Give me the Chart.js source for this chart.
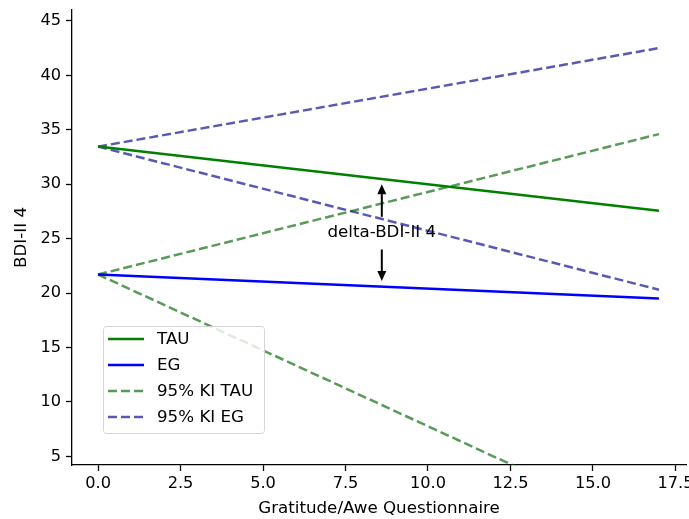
<!DOCTYPE html>
<html>
<head>
<meta charset="utf-8">
<script src="https://cdn.jsdelivr.net/npm/chart.js@4.4.1/dist/chart.umd.min.js"></script>
<style>
  html, body { margin: 0; padding: 0; background: #fff; }
  #wrap { width: 689px; height: 519px; }
</style>
</head>
<body>
<div id="wrap"><canvas id="bdiChart" width="689" height="519"></canvas></div>
<script>
// x positions of the regression line ends
var xEnds = [0, 17];

// series values (BDI-II 4) at xEnds
var tauLine = [33.45, 27.55];
var egLine = [21.7, 19.5];
var tauCiUpper = [21.7, 34.6];
var tauCiLower = [21.7, -2.0];
var egCiUpper = [33.45, 42.5];
var egCiLower = [33.45, 20.3];

// tick labels
var xTicks = [0, 2.5, 5, 7.5, 10, 12.5, 15, 17.5];
var yTicks = [5, 10, 15, 20, 25, 30, 35, 40, 45];

// annotation: x position, text y, arrow from/to values
var deltaX = 8.6;
var deltaTextY = 25.5;
var deltaUp = [27.0, 30.0];
var deltaDown = [24.0, 21.1];

var legendLabels = ['TAU', 'EG', '95% KI TAU', '95% KI EG'];

var FONT = "'DejaVu Sans', sans-serif";
var green = '#008000';
var blue = '#0000ff';
var greenCi = 'rgba(0, 100, 0, 0.65)';
var blueCi = 'rgba(0, 0, 139, 0.65)';

function toPoints(ys) {
    return xEnds.map(function(x, i) { return { x: x, y: ys[i] }; });
}

function lineSet(label, ys, color, dashed) {
    return {
        label: label,
        data: toPoints(ys),
        showLine: true,
        borderColor: color,
        backgroundColor: color,
        borderWidth: 2.5,
        borderDash: dashed ? [9, 4] : [],
        pointRadius: 0,
        pointHoverRadius: 0
    };
}

// legend drawn inside the plot, like the original
var legendPlugin = {
    id: 'innerLegend',
    afterDraw: function(chart) {
        var ctx = chart.ctx;
        var styles = [
            { color: green, dash: [] },
            { color: blue, dash: [] },
            { color: greenCi, dash: [9, 4] },
            { color: blueCi, dash: [9, 4] }
        ];
        var bx = 103, by = 326, bw = 161, bh = 107;
        ctx.save();
        ctx.beginPath();
        ctx.roundRect(bx + 0.5, by + 0.5, bw, bh, 3);
        ctx.fillStyle = 'rgba(255,255,255,0.8)';
        ctx.fill();
        ctx.strokeStyle = '#d6d6d6';
        ctx.lineWidth = 1;
        ctx.stroke();
        ctx.font = '16.7px ' + FONT;
        ctx.textBaseline = 'middle';
        legendLabels.forEach(function(label, i) {
            var y = by + 13 + i * 26;
            ctx.beginPath();
            ctx.setLineDash(styles[i].dash);
            ctx.strokeStyle = styles[i].color;
            ctx.lineWidth = 2.5;
            ctx.moveTo(108, y);
            ctx.lineTo(144, y);
            ctx.stroke();
            ctx.setLineDash([]);
            ctx.fillStyle = '#000';
            ctx.fillText(label, 157, y + 1);
        });
        ctx.restore();
    }
};

// delta arrows + text, placed through the chart scales
var deltaPlugin = {
    id: 'deltaNote',
    afterDatasetsDraw: function(chart) {
        var ctx = chart.ctx;
        var xs = chart.scales.x, ys = chart.scales.y;
        var px = xs.getPixelForValue(deltaX);

        function arrow(from, to) {
            var y0 = ys.getPixelForValue(from);
            var y1 = ys.getPixelForValue(to);
            var dir = y1 < y0 ? 1 : -1;
            var headLen = 10, headW = 4.5;
            ctx.beginPath();
            ctx.moveTo(px, y0);
            ctx.lineTo(px, y1 + dir * headLen);
            ctx.strokeStyle = '#000';
            ctx.lineWidth = 2;
            ctx.stroke();
            ctx.beginPath();
            ctx.moveTo(px, y1);
            ctx.lineTo(px - headW, y1 + dir * headLen);
            ctx.lineTo(px + headW, y1 + dir * headLen);
            ctx.closePath();
            ctx.fillStyle = '#000';
            ctx.fill();
        }

        ctx.save();
        arrow(deltaUp[0], deltaUp[1]);
        arrow(deltaDown[0], deltaDown[1]);
        ctx.font = '16.7px ' + FONT;
        ctx.textAlign = 'center';
        ctx.textBaseline = 'middle';
        ctx.fillStyle = '#000';
        ctx.fillText('delta-BDI-II 4', px, ys.getPixelForValue(deltaTextY));
        ctx.restore();
    }
};

document.addEventListener('DOMContentLoaded', function () {
    var ctx = document.getElementById('bdiChart').getContext('2d');
    new Chart(ctx, {
        type: 'scatter',
        data: {
            datasets: [
                lineSet('TAU', tauLine, green, false),
                lineSet('EG', egLine, blue, false),
                lineSet('95% KI TAU', tauCiUpper, greenCi, true),
                lineSet('95% KI TAU lower', tauCiLower, greenCi, true),
                lineSet('95% KI EG', egCiUpper, blueCi, true),
                lineSet('95% KI EG lower', egCiLower, blueCi, true)
            ]
        },
        options: {
            responsive: false,
            animation: false,
            layout: { padding: { left: 0, right: 3, top: 10, bottom: 0 } },
            plugins: {
                legend: { display: false },
                tooltip: { enabled: false }
            },
            scales: {
                x: {
                    type: 'linear',
                    min: -0.79,
                    max: 17.82,
                    afterBuildTicks: function(scale) {
                        scale.ticks = xTicks.map(function(v) { return { value: v }; });
                    },
                    afterFit: function(scale) {
                        scale.height = 54;
                        scale.paddingLeft = 0;
                        scale.paddingRight = 0;
                    },
                    ticks: {
                        color: '#000',
                        font: { family: FONT, size: 16.2 },
                        padding: 3,
                        maxRotation: 0,
                        autoSkip: false,
                        callback: function(v) { return Number(v).toFixed(1); }
                    },
                    grid: { drawOnChartArea: false, drawTicks: true, tickLength: 6, color: '#000', tickWidth: 1.3 },
                    border: { display: true, color: '#000', width: 1.3 },
                    title: {
                        display: true,
                        text: 'Gratitude/Awe Questionnaire',
                        color: '#000',
                        font: { family: FONT, size: 16.7 },
                        padding: { top: 0, bottom: 0 }
                    }
                },
                y: {
                    type: 'linear',
                    min: 4.2,
                    max: 46,
                    afterBuildTicks: function(scale) {
                        scale.ticks = yTicks.map(function(v) { return { value: v }; });
                    },
                    afterFit: function(scale) {
                        scale.width = 72;
                        scale.paddingTop = 0;
                        scale.paddingBottom = 0;
                    },
                    ticks: {
                        color: '#000',
                        font: { family: FONT, size: 16.2 },
                        padding: 5,
                        autoSkip: false,
                        callback: function(v) { return String(v); }
                    },
                    grid: { drawOnChartArea: false, drawTicks: true, tickLength: 6, color: '#000', tickWidth: 1.3 },
                    border: { display: true, color: '#000', width: 1.3 },
                    title: {
                        display: true,
                        text: 'BDI-II 4',
                        color: '#000',
                        font: { family: FONT, size: 16.7 },
                        padding: { top: 12, bottom: 0 }
                    }
                }
            }
        },
        plugins: [deltaPlugin, legendPlugin]
    });
});
</script>
</body>
</html>
